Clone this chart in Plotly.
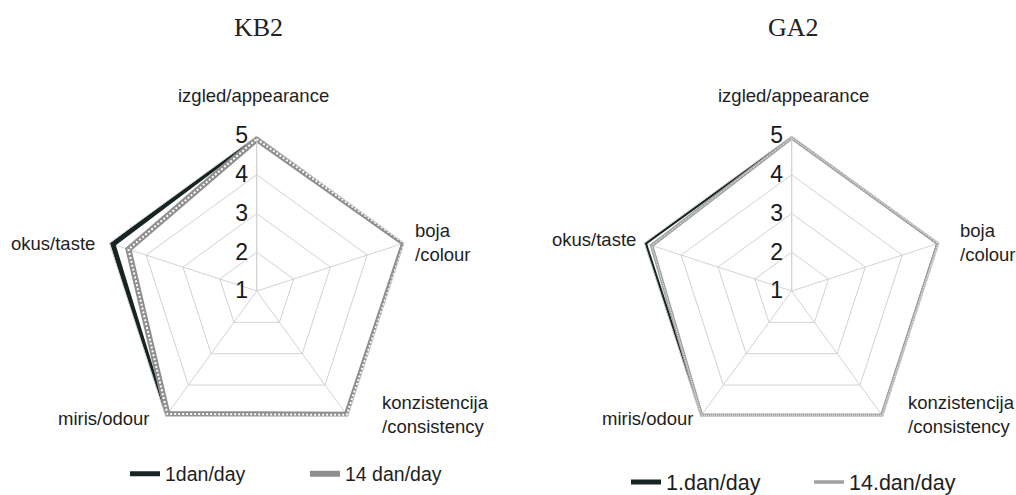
import plotly.graph_objects as go

W, H = 1016, 495

categories = ["izgled/appearance", "boja<br>/colour", "konzistencija<br>/consistency", "miris/odour", "okus/taste"]
theta_keys = ["appearance", "colour", "consistency", "odour", "taste"]

kb2_day1 = [5.0, 5.0, 5.0, 5.0, 4.9]
kb2_day14 = [4.92, 5.0, 4.95, 4.92, 4.48]
ga2_day1 = [5.0, 5.0, 5.0, 5.0, 5.0]
ga2_day14 = [4.95, 4.97, 4.96, 4.96, 4.8]

titles = ["KB2", "GA2"]
legend_left = ["1dan/day", "14 dan/day"]
legend_right = ["1.dan/day", "14.dan/day"]
radial_ticks = [1, 2, 3, 4, 5]

DARK = "#172424"
GRID = "#d2d2d2"
FONT = "Liberation Sans, Arial, sans-serif"


def closed(v):
    return list(v) + [v[0]]


th = closed(theta_keys)

fig = go.Figure()

# KB2
fig.add_trace(go.Scatterpolar(r=closed(kb2_day1), theta=th, mode="lines", name=legend_left[0],
                              line=dict(color=DARK, width=5), subplot="polar", legend="legend"))
fig.add_trace(go.Scatterpolar(r=closed(kb2_day14), theta=th, mode="lines", name=legend_left[1],
                              line=dict(color="#8f8f8f", width=6), subplot="polar", legend="legend"))
fig.add_trace(go.Scatterpolar(r=closed(kb2_day14), theta=th, mode="lines", showlegend=False,
                              line=dict(color="white", width=2, dash="2px,2px"), subplot="polar"))
# GA2
fig.add_trace(go.Scatterpolar(r=closed(ga2_day1), theta=th, mode="lines", name=legend_right[0],
                              line=dict(color=DARK, width=5), subplot="polar2", legend="legend2"))
fig.add_trace(go.Scatterpolar(r=closed(ga2_day14), theta=th, mode="lines", name=legend_right[1],
                              line=dict(color="#a0a0a0", width=3.5), subplot="polar2", legend="legend2"))
fig.add_trace(go.Scatterpolar(r=closed(ga2_day14), theta=th, mode="lines", showlegend=False,
                              line=dict(color="white", width=1, dash="1px,1px"), subplot="polar2"))


def polar_cfg(x0, x1):
    return dict(
        domain=dict(x=[x0 / W, x1 / W], y=[1 - 446 / H, 1 - 136 / H]),
        bgcolor="white",
        gridshape="linear",
        radialaxis=dict(range=[1, 5], tickvals=radial_ticks, angle=90, side="counterclockwise",
                        tickangle=90, showline=True, linecolor=GRID, linewidth=1,
                        gridcolor=GRID, gridwidth=1, ticks="",
                        tickfont=dict(family=FONT, size=23, color="#1a1a1a")),
        angularaxis=dict(direction="clockwise", rotation=90, showticklabels=False, ticks="",
                         showline=True, linecolor=GRID, gridcolor=GRID, gridwidth=1,
                         categoryorder="array", categoryarray=theta_keys),
    )


# category label positions in pixels (x, y, xanchor)
label_pos_left = [(253, 95, "center"), (413, 242, "left"), (380, 414, "left"), (152, 418, "right"), (97, 243, "right")]
label_pos_right = [(793, 95, "center"), (958, 242, "left"), (906, 414, "left"), (696, 418, "right"), (638, 239, "right")]

annotations = []
for pos in (label_pos_left, label_pos_right):
    for txt, (px, py, xa) in zip(categories, pos):
        annotations.append(dict(text=txt, x=px / W, y=1 - py / H, xref="paper", yref="paper",
                                xanchor=xa, yanchor="middle", align="left", showarrow=False,
                                font=dict(family=FONT, size=18.5, color="#1e1e1e")))
for txt, px in zip(titles, [258, 793]):
    annotations.append(dict(text=txt, x=px / W, y=1 - 27 / H, xref="paper", yref="paper",
                            xanchor="center", yanchor="middle", showarrow=False,
                            font=dict(family="Liberation Serif, Times New Roman, serif", size=26, color="#222")))

fig.update_layout(
    width=W, height=H,
    margin=dict(l=0, r=0, t=0, b=0, autoexpand=False),
    paper_bgcolor="white",
    plot_bgcolor="white",
    polar=polar_cfg(101.7, 411.7),
    polar2=polar_cfg(636.7, 946.7),
    annotations=annotations,
    legend=dict(orientation="h", x=125 / W, y=1 - 474 / H, xanchor="left", yanchor="middle",
                entrywidth=135, entrywidthmode="pixels", bgcolor="rgba(0,0,0,0)",
                font=dict(family=FONT, size=19.5, color="#1e1e1e")),
    legend2=dict(orientation="h", x=626 / W, y=1 - 482 / H, xanchor="left", yanchor="middle",
                 entrywidth=138, entrywidthmode="pixels", bgcolor="rgba(0,0,0,0)",
                 font=dict(family=FONT, size=21.5, color="#1e1e1e")),
)

fig.write_html("out.html", config={"displayModeBar": False},
               post_script="document.body.style.margin='0';document.body.style.padding='0';")
